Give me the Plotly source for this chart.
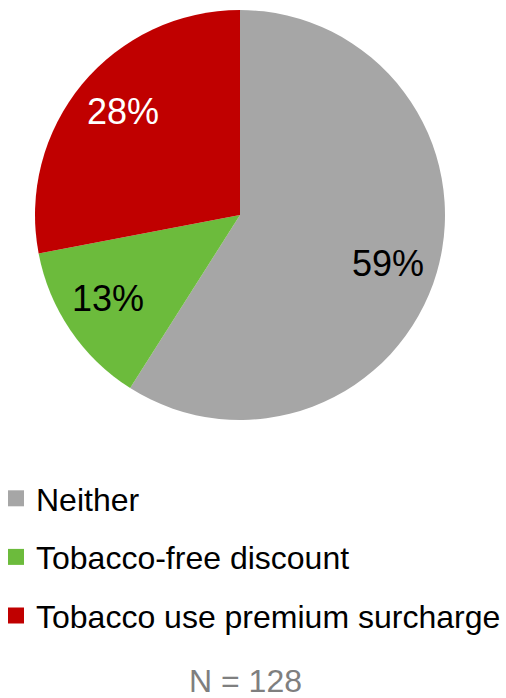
import math
import plotly.graph_objects as go

labels = ["Neither", "Tobacco-free discount", "Tobacco use premium surcharge"]
values = [59, 13, 28]
colors = ["#A6A6A6", "#6CBB3C", "#C00000"]
text_colors = ["#000000", "#000000", "#FFFFFF"]
note = "N = 128"

W, H = 506, 698
# pie geometry (pixels)
cx, cy, R = 240, 215, 205
dom_x = [(cx - R) / W, (cx + R) / W]
dom_y = [1 - (cy + R) / H, 1 - (cy - R) / H]

fig = go.Figure()
fig.add_trace(go.Pie(
    labels=labels, values=values, sort=False, direction="clockwise", rotation=0,
    marker=dict(colors=colors, line=dict(width=0)),
    textinfo="none", showlegend=False, hoverinfo="label+percent",
    domain=dict(x=dom_x, y=dom_y),
))
for lab, col in zip(labels, colors):
    fig.add_trace(go.Scatter(
        x=[None], y=[None], mode="markers", name=lab, legendgroup=lab,
        marker=dict(symbol="square", size=16, color=col),
    ))

# value labels along each slice's mid-angle (clockwise from top)
annotations = []
total = sum(values)
cum = 0
for v, tc in zip(values, text_colors):
    mid = (cum + v / 2) / total * 2 * math.pi + math.radians(2)
    cum += v
    px = cx + 0.76 * R * math.sin(mid)
    py = cy - 0.76 * R * math.cos(mid)
    annotations.append(dict(
        text=f"{v}%", x=px / W, y=1 - py / H, xref="paper", yref="paper",
        showarrow=False, font=dict(size=36, color=tc),
        xanchor="center", yanchor="middle",
    ))
annotations.append(dict(
    text=note, x=245 / W, y=1 - 681 / H, xref="paper", yref="paper",
    showarrow=False, font=dict(size=32, color="#7F7F7F"),
    xanchor="center", yanchor="middle",
))

fig.update_layout(
    width=W, height=H, margin=dict(l=0, r=0, t=0, b=0, autoexpand=False),
    paper_bgcolor="white", plot_bgcolor="white",
    xaxis=dict(visible=False), yaxis=dict(visible=False),
    font=dict(family="Liberation Sans, Arial", color="#000000"),
    legend=dict(
        x=-4 / W, y=1 - 471 / H, xanchor="left", yanchor="top",
        font=dict(size=32, color="#000000"), itemwidth=30,
        tracegroupgap=14, traceorder="grouped", bgcolor="rgba(0,0,0,0)",
    ),
    annotations=annotations,
)
fig.write_html(
    "out.html",
    config={"displayModeBar": False},
    post_script="document.body.style.margin='0';document.body.style.overflow='hidden';",
)
